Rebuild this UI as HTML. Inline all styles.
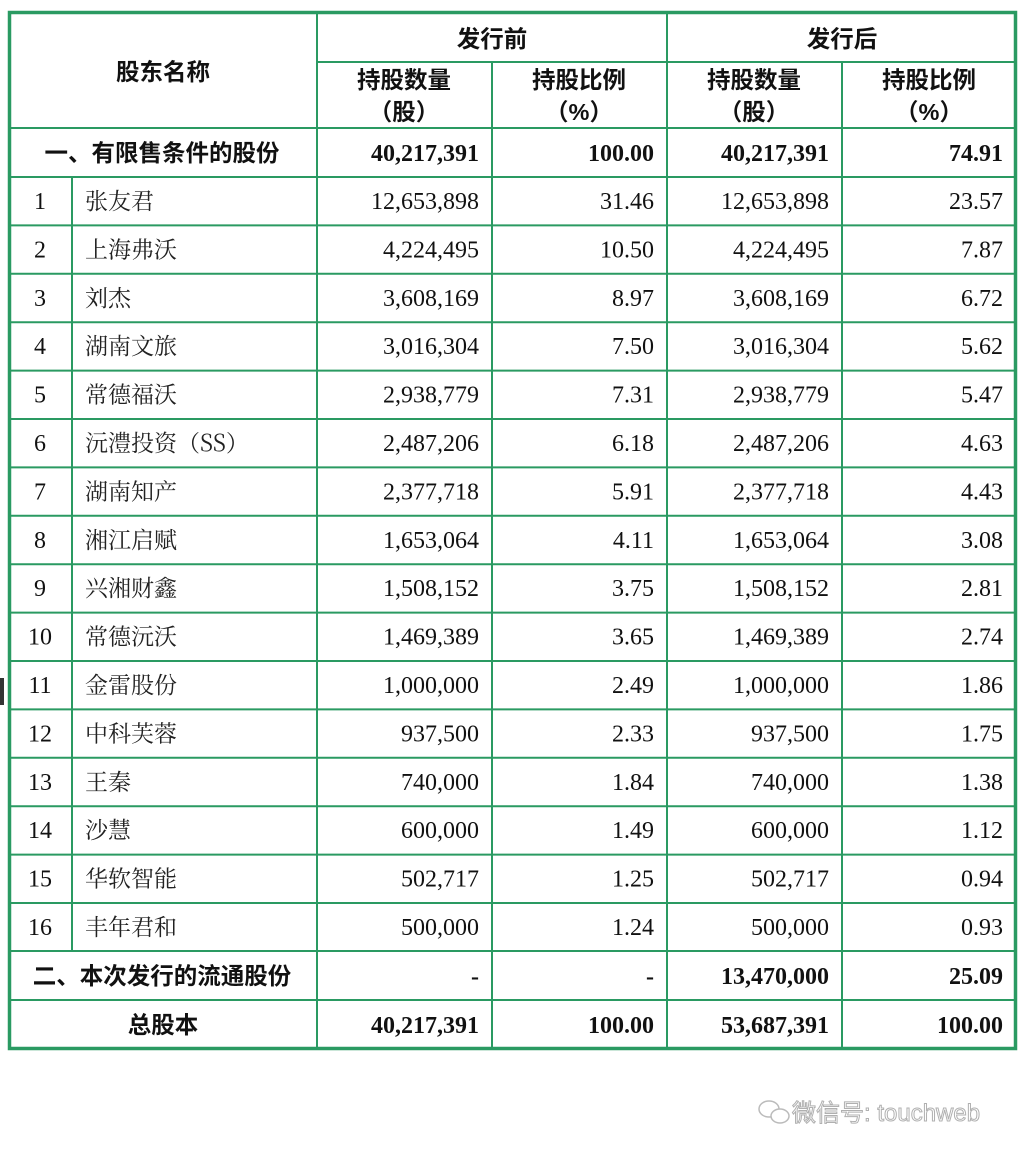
<!DOCTYPE html>
<html><head><meta charset="utf-8"><style>
html,body{margin:0;padding:0;background:#fff;}
svg{display:block}
.s{font-family:"Liberation Sans","Noto Sans CJK SC",sans-serif;font-weight:bold;font-size:23.5px;fill:#111}
.n{font-family:"Liberation Serif","Noto Serif CJK SC",serif;font-size:24px;fill:#111}
.b{font-family:"Liberation Serif","Noto Serif CJK SC",serif;font-size:24px;font-weight:bold;fill:#111}
.c{font-family:"Noto Serif CJK SC",serif;font-size:23px;fill:#222}
</style></head><body>
<svg width="1024" height="1157" viewBox="0 0 1024 1157" xmlns="http://www.w3.org/2000/svg">
<rect x="0" y="678" width="4" height="27" fill="#333"/>
<g stroke="#2a9a62" fill="none">
<rect x="9.5" y="12.5" width="1006" height="1036" stroke-width="3.5"/>
<g stroke-width="2">
<line x1="317" y1="12" x2="317" y2="1048"/>
<line x1="667" y1="12" x2="667" y2="1048"/>
<line x1="492" y1="62" x2="492" y2="1048"/>
<line x1="842" y1="62" x2="842" y2="1048"/>
<line x1="72" y1="177" x2="72" y2="951"/>
<line x1="317" y1="62" x2="1016" y2="62"/>
<line x1="9" y1="128" x2="1016" y2="128"/>
<line x1="9" y1="177" x2="1016" y2="177"/>
<line x1="9" y1="225.4" x2="1016" y2="225.4"/>
<line x1="9" y1="273.8" x2="1016" y2="273.8"/>
<line x1="9" y1="322.2" x2="1016" y2="322.2"/>
<line x1="9" y1="370.6" x2="1016" y2="370.6"/>
<line x1="9" y1="419" x2="1016" y2="419"/>
<line x1="9" y1="467.4" x2="1016" y2="467.4"/>
<line x1="9" y1="515.8" x2="1016" y2="515.8"/>
<line x1="9" y1="564.2" x2="1016" y2="564.2"/>
<line x1="9" y1="612.6" x2="1016" y2="612.6"/>
<line x1="9" y1="661" x2="1016" y2="661"/>
<line x1="9" y1="709.4" x2="1016" y2="709.4"/>
<line x1="9" y1="757.8" x2="1016" y2="757.8"/>
<line x1="9" y1="806.2" x2="1016" y2="806.2"/>
<line x1="9" y1="854.6" x2="1016" y2="854.6"/>
<line x1="9" y1="903" x2="1016" y2="903"/>
<line x1="9" y1="951" x2="1016" y2="951"/>
<line x1="9" y1="1000" x2="1016" y2="1000"/>
</g></g>
<g class="s" text-anchor="middle">
<text x="163" y="80">股东名称</text>
<text x="492" y="47">发行前</text>
<text x="842" y="47">发行后</text>
<text x="404" y="88">持股数量</text><text x="404" y="120">（股）</text>
<text x="579" y="88">持股比例</text><text x="579" y="120">（%）</text>
<text x="754" y="88">持股数量</text><text x="754" y="120">（股）</text>
<text x="929" y="88">持股比例</text><text x="929" y="120">（%）</text>
<text x="162" y="161">一、有限售条件的股份</text>
<text x="162" y="984">二、本次发行的流通股份</text>
<text x="163" y="1033">总股本</text>
</g>
<g class="b" text-anchor="end">
<text x="479" y="161">40,217,391</text><text x="654" y="161">100.00</text><text x="829" y="161">40,217,391</text><text x="1003" y="161">74.91</text>
<text x="479" y="984">-</text><text x="654" y="984">-</text><text x="829" y="984">13,470,000</text><text x="1003" y="984">25.09</text>
<text x="479" y="1033">40,217,391</text><text x="654" y="1033">100.00</text><text x="829" y="1033">53,687,391</text><text x="1003" y="1033">100.00</text>
</g>
<g class="n">
<g text-anchor="middle">
<text x="40" y="209">1</text><text x="40" y="257.4">2</text><text x="40" y="305.8">3</text><text x="40" y="354.2">4</text><text x="40" y="402.6">5</text><text x="40" y="451">6</text><text x="40" y="499.4">7</text><text x="40" y="547.8">8</text><text x="40" y="596.2">9</text><text x="40" y="644.6">10</text><text x="40" y="693">11</text><text x="40" y="741.4">12</text><text x="40" y="789.8">13</text><text x="40" y="838.2">14</text><text x="40" y="886.6">15</text><text x="40" y="935">16</text>
</g>
<g class="c">
<text x="85" y="209">张友君</text><text x="85" y="257.4">上海弗沃</text><text x="85" y="305.8">刘杰</text><text x="85" y="354.2">湖南文旅</text><text x="85" y="402.6">常德福沃</text><text x="85" y="451">沅澧投资（SS）</text><text x="85" y="499.4">湖南知产</text><text x="85" y="547.8">湘江启赋</text><text x="85" y="596.2">兴湘财鑫</text><text x="85" y="644.6">常德沅沃</text><text x="85" y="693">金雷股份</text><text x="85" y="741.4">中科芙蓉</text><text x="85" y="789.8">王秦</text><text x="85" y="838.2">沙慧</text><text x="85" y="886.6">华软智能</text><text x="85" y="935">丰年君和</text>
</g>
<g text-anchor="end">
<text x="479" y="209">12,653,898</text><text x="654" y="209">31.46</text><text x="829" y="209">12,653,898</text><text x="1003" y="209">23.57</text>
<text x="479" y="257.4">4,224,495</text><text x="654" y="257.4">10.50</text><text x="829" y="257.4">4,224,495</text><text x="1003" y="257.4">7.87</text>
<text x="479" y="305.8">3,608,169</text><text x="654" y="305.8">8.97</text><text x="829" y="305.8">3,608,169</text><text x="1003" y="305.8">6.72</text>
<text x="479" y="354.2">3,016,304</text><text x="654" y="354.2">7.50</text><text x="829" y="354.2">3,016,304</text><text x="1003" y="354.2">5.62</text>
<text x="479" y="402.6">2,938,779</text><text x="654" y="402.6">7.31</text><text x="829" y="402.6">2,938,779</text><text x="1003" y="402.6">5.47</text>
<text x="479" y="451">2,487,206</text><text x="654" y="451">6.18</text><text x="829" y="451">2,487,206</text><text x="1003" y="451">4.63</text>
<text x="479" y="499.4">2,377,718</text><text x="654" y="499.4">5.91</text><text x="829" y="499.4">2,377,718</text><text x="1003" y="499.4">4.43</text>
<text x="479" y="547.8">1,653,064</text><text x="654" y="547.8">4.11</text><text x="829" y="547.8">1,653,064</text><text x="1003" y="547.8">3.08</text>
<text x="479" y="596.2">1,508,152</text><text x="654" y="596.2">3.75</text><text x="829" y="596.2">1,508,152</text><text x="1003" y="596.2">2.81</text>
<text x="479" y="644.6">1,469,389</text><text x="654" y="644.6">3.65</text><text x="829" y="644.6">1,469,389</text><text x="1003" y="644.6">2.74</text>
<text x="479" y="693">1,000,000</text><text x="654" y="693">2.49</text><text x="829" y="693">1,000,000</text><text x="1003" y="693">1.86</text>
<text x="479" y="741.4">937,500</text><text x="654" y="741.4">2.33</text><text x="829" y="741.4">937,500</text><text x="1003" y="741.4">1.75</text>
<text x="479" y="789.8">740,000</text><text x="654" y="789.8">1.84</text><text x="829" y="789.8">740,000</text><text x="1003" y="789.8">1.38</text>
<text x="479" y="838.2">600,000</text><text x="654" y="838.2">1.49</text><text x="829" y="838.2">600,000</text><text x="1003" y="838.2">1.12</text>
<text x="479" y="886.6">502,717</text><text x="654" y="886.6">1.25</text><text x="829" y="886.6">502,717</text><text x="1003" y="886.6">0.94</text>
<text x="479" y="935">500,000</text><text x="654" y="935">1.24</text><text x="829" y="935">500,000</text><text x="1003" y="935">0.93</text>
</g></g>
<g fill="none" stroke="#bbb" stroke-width="1.5">
<ellipse cx="769" cy="1109" rx="10" ry="8"/>
<ellipse cx="780" cy="1116" rx="9" ry="7" fill="#fff"/>
</g>
<text x="792" y="1121" font-family="Liberation Sans,'Noto Sans CJK SC',sans-serif" font-size="24" fill="#fff" stroke="#b0b0b0" stroke-width="1">微信号: touchweb</text>
</svg>
</body></html>
